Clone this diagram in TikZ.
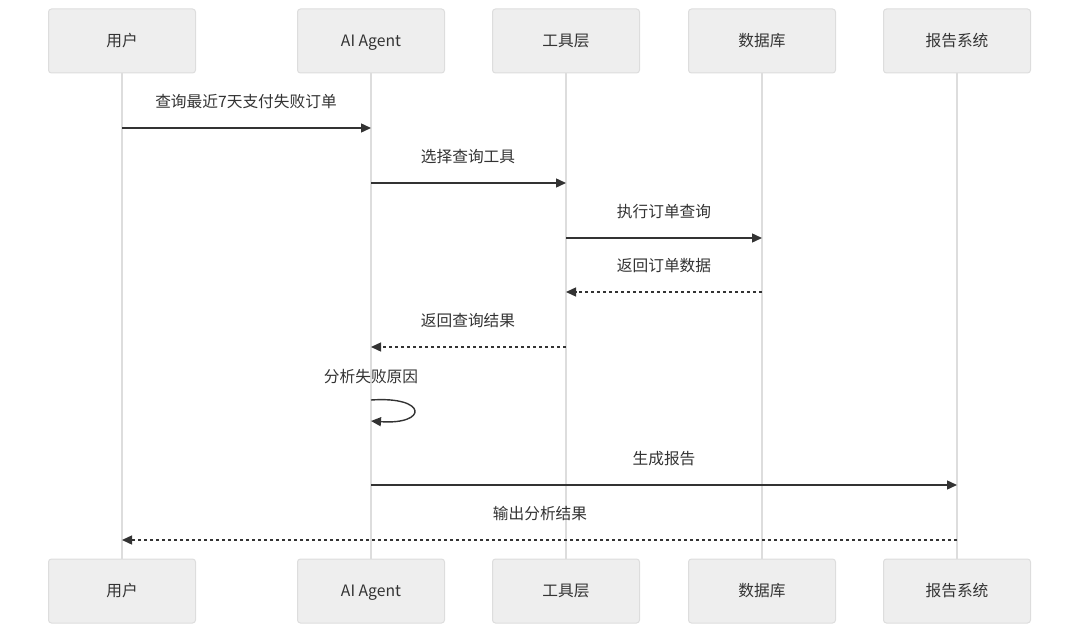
\documentclass[tikz,border=0pt]{standalone}
\usepackage{fontspec}
\setmainfont{Noto Sans CJK SC}
\usetikzlibrary{arrows.meta}
\definecolor{boxfill}{HTML}{EEEEEE}
\definecolor{boxline}{HTML}{DDDDDD}
\definecolor{lifeline}{HTML}{DDDDDD}
\definecolor{ink}{HTML}{333333}
\tikzset{
  x=1pt,y=-1pt,
  actor/.style={draw=boxline,fill=boxfill,rounded corners=3pt,line width=1pt,minimum width=147pt,minimum height=64pt,font=\fontsize{15.7}{18}\selectfont,text=ink,inner sep=0pt},
  atext/.style={font=\fontsize{15.7}{18}\selectfont,text=ink,inner sep=0pt,text height=0.85em,text depth=0.2em,yshift=-2.5pt},
  life/.style={draw=lifeline,line width=1.6pt},
  msg/.style={draw=ink,line width=1.4pt,-{Triangle[length=10pt,width=9pt]}},
  reply/.style={msg,dash pattern=on 3pt off 3pt},
  lbl/.style={font=\fontsize{15.7}{18}\selectfont,text=ink,inner sep=0pt,text height=0.85em,text depth=0.2em,yshift=-2.5pt},
}
\begin{document}
\begin{tikzpicture}
\useasboundingbox (0,0) rectangle (1080,634);
\foreach \n/\x/\t in {u/122/用户,a/371/AI Agent,t/566/工具层,d/762/数据库,r/957/报告系统}{
  \draw[life] (\x,73) -- (\x,559);
  \node[actor] (\n top) at (\x,41) {};
  \node[atext] (\n toplabel) at (\n top.center) {\t};
  \node[actor] (\n bot) at (\x,591) {};
  \node[atext] (\n botlabel) at (\n bot.center) {\t};
}
% message endpoints
\foreach \n/\x in {u/122,a/371,t/566,d/762,r/957}{
  \foreach \k/\y in {1/128,2/183,3/238,4/292,5/347,6/400,7/421,8/485,9/540}{
    \coordinate (\n\k) at (\x,\y);
  }
}
\draw[msg] (u1) -- (a1);
\node[lbl] (m1) at (246,102) {查询最近7天支付失败订单};
\draw[msg] (a2) -- (t2);
\node[lbl] (m2) at (468,157) {选择查询工具};
\draw[msg] (t3) -- (d3);
\node[lbl] (m3) at (664,212) {执行订单查询};
\draw[reply] (d4) -- (t4);
\node[lbl] (m4) at (664,266) {返回订单数据};
\draw[reply] (t5) -- (a5);
\node[lbl] (m5) at (468,321) {返回查询结果};
\node[lbl] (m6) at (371,377) {分析失败原因};
\draw[msg] (a6) .. controls (428,396) and (428,425) .. (a7);
\draw[msg] (a8) -- (r8);
\node[lbl] (m8) at (664,459) {生成报告};
\draw[reply] (r9) -- (u9);
\node[lbl] (m9) at (540,514) {输出分析结果};
\end{tikzpicture}
\end{document}
